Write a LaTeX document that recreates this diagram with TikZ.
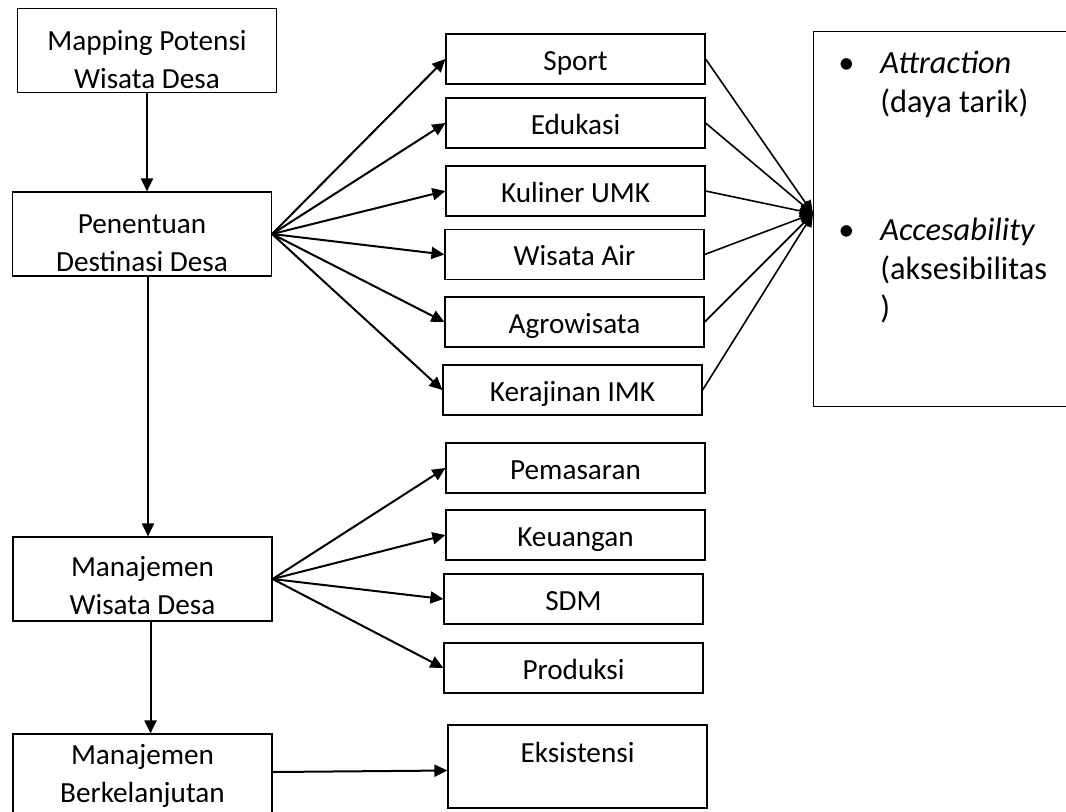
\documentclass[tikz,border=0pt]{standalone}
\usepackage{fontspec}
\setmainfont{Carlito}
\usetikzlibrary{calc,
	positioning,
	arrows.meta}
\tikzstyle{bx}=[draw, line width=0.6pt, minimum width=129.5pt, inner sep=0,
		font=\fontsize{14.6pt}{19pt}\selectfont]
\tikzstyle{bs}=[bx, minimum height=25pt, text height=14pt, text depth=3pt]
\tikzstyle{bm}=[bx, minimum height=42pt, align=center]
\tikzstyle{ar}=[line width=1pt, -{Triangle[length=6.5pt,width=6pt]}]
\tikzstyle{arn}=[line width=0.8pt, -{Triangle[length=6.5pt,width=6pt]}]

\begin{document}
\begin{tikzpicture}[x=0.5pt, y=-0.5pt]
            \clip (0,0) rectangle (1066,811);
            \node[bm] (map) at (147,50.5) {\rule{0pt}{19pt}Mapping Potensi\\Wisata Desa};
            \node[bm] (pen) at (142,234) {\rule{0pt}{19pt}Penentuan\\Destinasi Desa};
            \node[bm] (mwd) at (142.5,579) {\rule{0pt}{17pt}Manajemen\\Wisata Desa};
            \node[bm] (mb) at (142.5,776) {Manajemen\\Berkelanjutan};

            \node[bs] (sport) at (575.5,59) {Sport};
            \node[bs] (edu) at (575.5,123) {Edukasi};
            \node[bs] (kul) at (575.5,191) {Kuliner UMK};
            \node[bs] (air) at (574.5,254.5) {Wisata Air};
            \node[bs] (agro) at (574.5,322) {Agrowisata};
            \node[bs] (kraj) at (572.5,390) {Kerajinan IMK};

            \node[bs] (pem) at (575.5,468) {Pemasaran};
            \node[bs] (keu) at (575.5,535) {Keuangan};
            \node[bs] (sdm) at (573.5,599) {SDM};
            \node[bs] (prod) at (573.5,668) {Produksi};
            \node[bs, minimum height=41.5pt, text height=10pt, text depth=14pt] (eks) at (577.5,766.5) {Eksistensi};

            \node[draw, line width=0.6pt, minimum width=130pt, minimum height=187.5pt,
                anchor=north west] (big) at (813,31) {};
            \node[anchor=north west, inner sep=0, font=\fontsize{16.2pt}{19.5pt}\selectfont]
                (bigtxt) at ([xshift=12.5pt,yshift=-7.5pt]big.north west) {%
                \begin{tabular}{@{}p{21pt}@{}l@{}}
                    \textbullet & \textit{Attraction}\\
                    & (daya tarik)\\[44.5pt]
                    \textbullet & \textit{Accesability}\\
                    & (aksesibilitas\\
                    & )
                \end{tabular}};
            \coordinate (hub) at ([yshift=2.75pt]big.west);

            \draw[ar] (map.south) -- (map.south |- pen.north);
            \draw[ar] ([xshift=3pt]pen.south) -- ([xshift=3pt]pen.south |- mwd.north);
            \draw[ar] ([xshift=4pt]mwd.south) -- ([xshift=4pt]mwd.south |- mb.north);

            \foreach \n in {sport, edu, kul, air, agro, kraj} {
                \draw[ar] (pen.east) -- (\n.west);
                \draw[arn] (\n.east) -- (hub);
            }
            \foreach \n in {pem, keu, sdm, prod} {
                \draw[ar] (mwd.east) -- (\n.west);
            }
            \draw[ar] ([yshift=2pt]mb.east) -- ([yshift=-2pt]eks.west);
        \end{tikzpicture}
\end{document}
